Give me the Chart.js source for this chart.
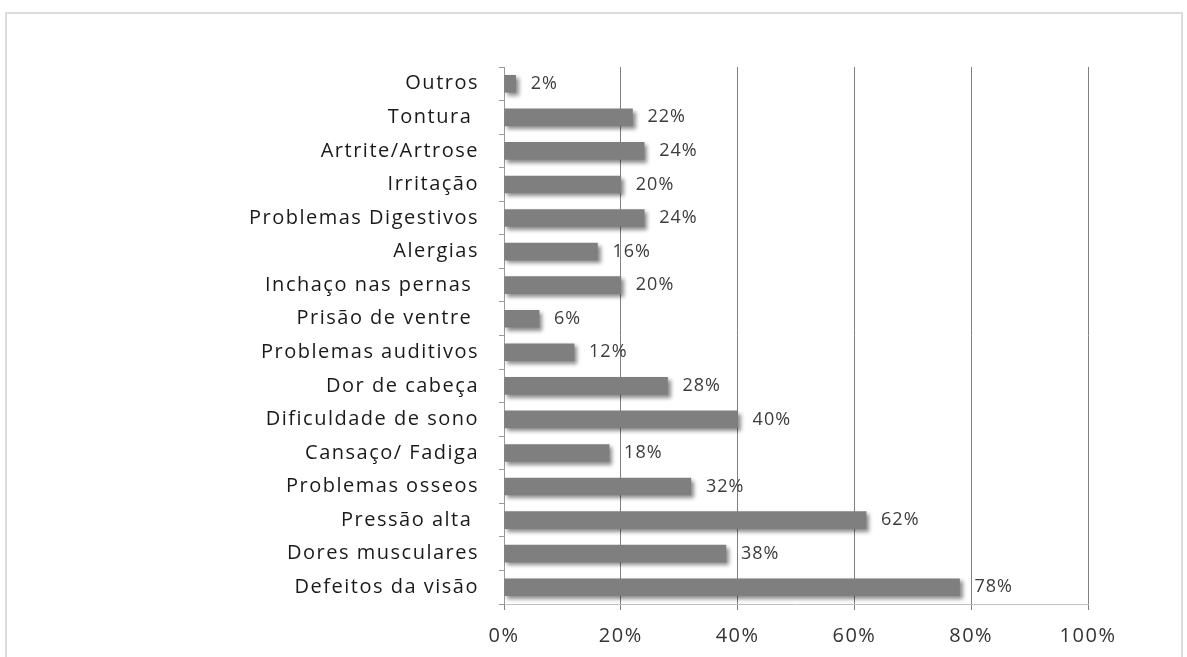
<!DOCTYPE html>
<html><head><meta charset="utf-8">
<script src="https://cdn.jsdelivr.net/npm/chart.js@4/dist/chart.umd.min.js"></script>
<style>
html,body{margin:0;padding:0;background:#fff;}
#wrap{position:relative;width:1187px;height:657px;overflow:hidden;}
#frame{position:absolute;left:5px;top:12px;width:1178px;height:700px;border:2px solid #dcdcdc;box-sizing:border-box;}
canvas{position:absolute;left:0;top:0;}
</style></head>
<body><div id="wrap"><div id="frame"></div><canvas id="c" width="1187" height="657"></canvas></div>
<script>
const categories = ["Outros","Tontura ","Artrite/Artrose","Irritação","Problemas Digestivos","Alergias","Inchaço nas pernas ","Prisão de ventre ","Problemas auditivos","Dor de cabeça","Dificuldade de sono","Cansaço/ Fadiga","Problemas osseos","Pressão alta ","Dores musculares","Defeitos da visão"];
const percentages = [2,22,24,20,24,16,20,6,12,28,40,18,32,62,38,78];
const xTicks = [0,20,40,60,80,100];

const spacing = {
  id:'spacing',
  beforeLayout(chart){ chart.ctx.letterSpacing='1.5px'; },
  beforeDraw(chart){ chart.ctx.letterSpacing='1.5px'; }
};
const shadow = {
  id:'shadow',
  beforeDatasetsDraw(chart){
    const ctx=chart.ctx; ctx.save();
    ctx.shadowColor='rgba(0,0,0,0.45)'; ctx.shadowBlur=4; ctx.shadowOffsetX=3; ctx.shadowOffsetY=3;
  },
  afterDatasetsDraw(chart){
    const ctx=chart.ctx; ctx.restore();
    const meta=chart.getDatasetMeta(0);
    const xs=chart.scales.x;
    ctx.save();
    ctx.letterSpacing='1px';
    ctx.font='18px "Open Sans"';
    ctx.fillStyle='#3c3c3c';
    ctx.textAlign='left'; ctx.textBaseline='middle';
    meta.data.forEach((bar,i)=>{
      const v=percentages[i];
      ctx.fillText(v+'%', xs.getPixelForValue(v)+15, bar.y);
    });
    ctx.restore();
  }
};

new Chart(document.getElementById('c'),{
  type:'bar',
  data:{labels:categories,datasets:[{data:percentages,backgroundColor:'#7f7f7f',barThickness:17,borderWidth:0}]},
  options:{
    indexAxis:'y',responsive:false,animation:false,
    layout:{padding:{top:67,right:99,left:0,bottom:0}},
    plugins:{legend:{display:false},tooltip:{enabled:false}},
    scales:{
      x:{min:0,max:100,
        afterBuildTicks(s){ s.ticks = xTicks.map(v=>({value:v})); },
        afterFit(s){ s.height=53; },
        ticks:{callback:v=>v+'%',font:{family:'Open Sans',size:20},color:'#333',padding:14},
        grid:{color:'#808080',lineWidth:1,tickLength:6,drawTicks:true},
        border:{color:'#c0c0c0',width:1}
      },
      y:{
        afterFit(s){ s.width=504; },
        ticks:{font:{family:'Open Sans',size:20},color:'#1a1a1a',padding:20},
        grid:{offset:true,drawOnChartArea:false,drawTicks:true,tickLength:5,color:'#9a9a9a'},
        border:{color:'#9a9a9a',width:1}
      }
    }
  },
  plugins:[spacing,shadow]
});
</script></body></html>
